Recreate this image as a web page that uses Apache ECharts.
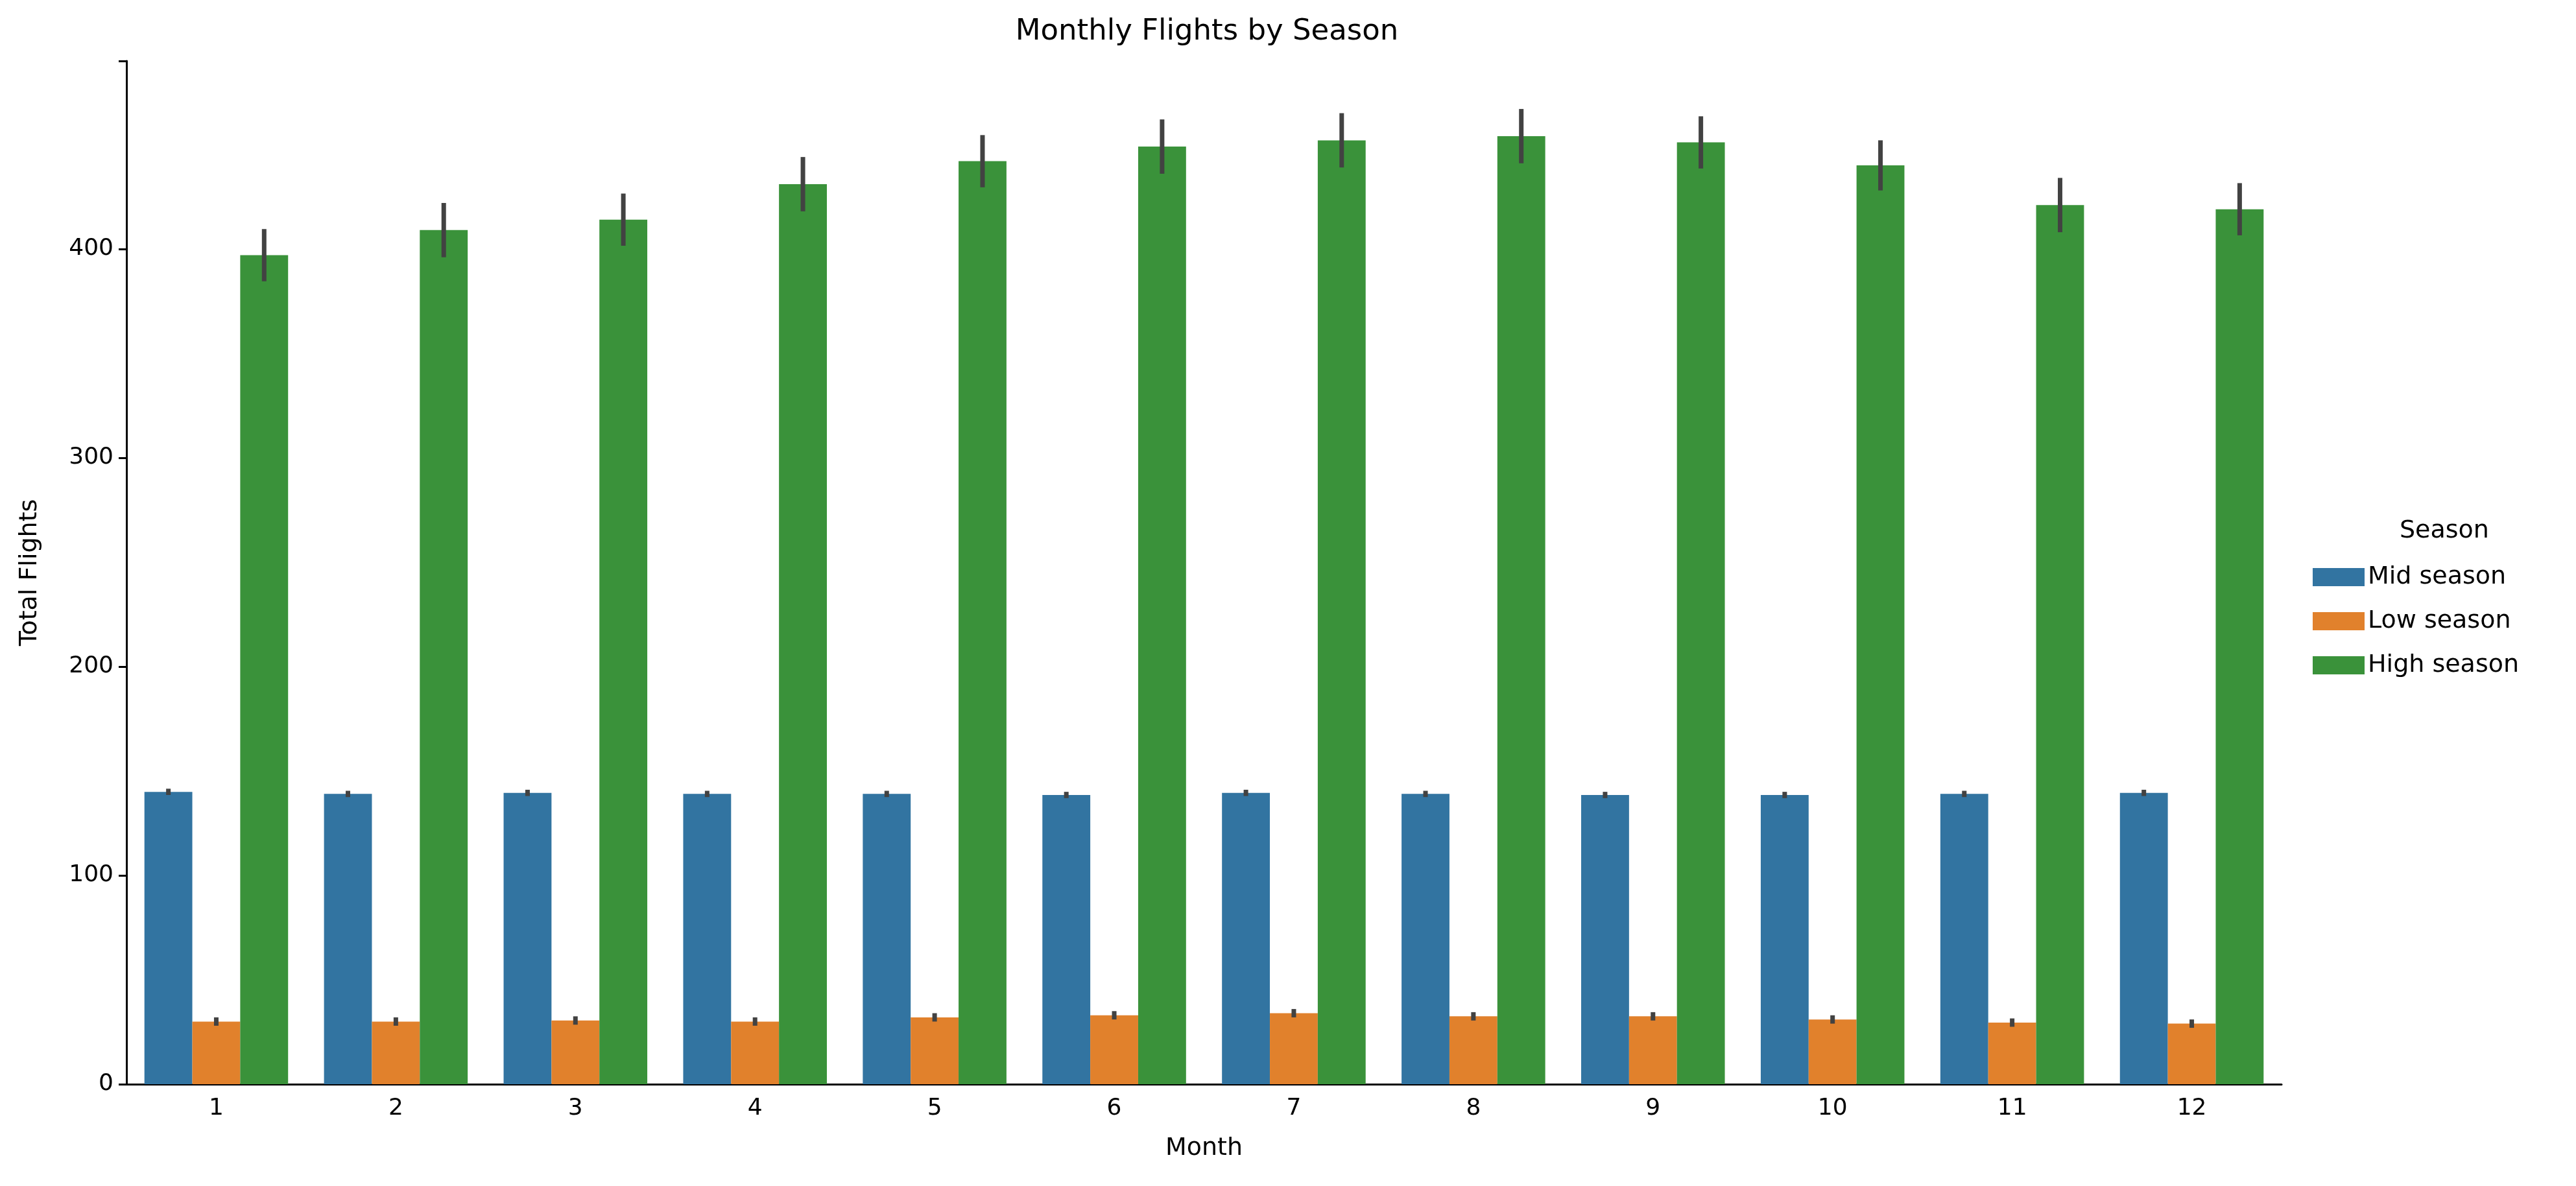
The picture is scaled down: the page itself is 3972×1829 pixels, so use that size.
<!DOCTYPE html>
<html><head><meta charset="utf-8">
<script src="https://cdn.jsdelivr.net/npm/echarts@6/dist/echarts.min.js"></script>
<style>html,body{margin:0;background:#fff}#c{width:3972px;height:1829px}</style>
</head><body><div id="c"></div>
<script>
const months = ['1','2','3','4','5','6','7','8','9','10','11','12'];
const seasons = ['Mid season', 'Low season', 'High season'];
const colors = ['#3274a1', '#e1812c', '#3a923a'];
const midVals = [140, 139, 139.5, 139, 139, 138.5, 139.5, 139, 138.5, 138.5, 139, 139.5];
const lowVals = [30, 30, 30.5, 30, 32, 33, 34, 32.5, 32.5, 31, 29.5, 29];
const highVals = [397, 409, 414, 431, 442, 449, 452, 454, 451, 440, 421, 419];
const midErr = [1.5, 1.5, 1.5, 1.5, 1.5, 1.5, 1.5, 1.5, 1.5, 1.5, 1.5, 1.5];
const lowErr = [2, 2, 2, 2, 2, 2, 2, 2, 2, 2, 2, 2];
const highErr = [12.5, 13, 12.5, 13, 12.5, 13, 13, 13, 12.5, 12, 13, 12.5];

document.addEventListener('DOMContentLoaded', function () {
    const chart = echarts.init(document.getElementById('c'));
    const vals = [midVals, lowVals, highVals];
    const errs = [midErr, lowErr, highErr];
    const font = 'DejaVu Sans';

    const barSeries = seasons.map((s, i) => ({
        name: s, type: 'bar', data: vals[i], barGap: '0%', barCategoryGap: '20%',
        itemStyle: { color: colors[i] }
    }));
    const errSeries = seasons.map((s, i) => ({
        type: 'custom', silent: true, z: 10,
        data: months.map((m, j) => [j, vals[i][j] - errs[i][j], vals[i][j] + errs[i][j]]),
        renderItem: function (params, api) {
            const band = api.size([1, 0])[0];
            const lo = api.coord([api.value(0), api.value(1)]);
            const hi = api.coord([api.value(0), api.value(2)]);
            const x = lo[0] + (i - 1) * band * 0.8 / 3;
            return { type: 'line', shape: { x1: x, y1: lo[1], x2: x, y2: hi[1] },
                style: { stroke: '#424242', lineWidth: 7 } };
        }
    }));

    chart.setOption({
        animation: false,
        title: { text: 'Monthly Flights by Season', left: 1856, top: 22, textAlign: 'center',
            textStyle: { fontFamily: font, fontSize: 45, fontWeight: 'normal', color: '#000' } },
        legend: {
            orient: 'vertical', left: 3561, top: 866, itemWidth: 80, itemHeight: 28, itemGap: 30,
            data: seasons, icon: 'rect',
            textStyle: { fontFamily: font, fontSize: 38, color: '#000' }
        },
        graphic: [{ type: 'text', left: 3700, top: 800,
            style: { text: 'Season', font: '38px "DejaVu Sans"', fill: '#000' } }],
        grid: { left: 195, right: 454, top: 94, bottom: 157 },
        xAxis: {
            type: 'category', data: months, name: 'Month', nameLocation: 'middle', nameGap: 80,
            nameTextStyle: { fontFamily: font, fontSize: 38, color: '#000' },
            axisLine: { lineStyle: { color: '#000', width: 3 } },
            axisTick: { alignWithLabel: true, length: 12, lineStyle: { width: 3 } },
            axisLabel: { fontFamily: font, fontSize: 36, color: '#000', margin: 20 }
        },
        yAxis: {
            type: 'value', min: 0, max: 490, interval: 100, name: 'Total Flights',
            nameLocation: 'middle', nameGap: 130,
            nameTextStyle: { fontFamily: font, fontSize: 38, color: '#000' },
            axisLine: { show: true, lineStyle: { color: '#000', width: 3 } },
            axisTick: { show: true, length: 12, lineStyle: { width: 3 } },
            splitLine: { show: false },
            axisLabel: { fontFamily: font, fontSize: 36, color: '#000', margin: 20,
                formatter: v => (v % 100 === 0 ? v : '') }
        },
        series: barSeries.concat(errSeries)
    });
});
</script></body></html>
